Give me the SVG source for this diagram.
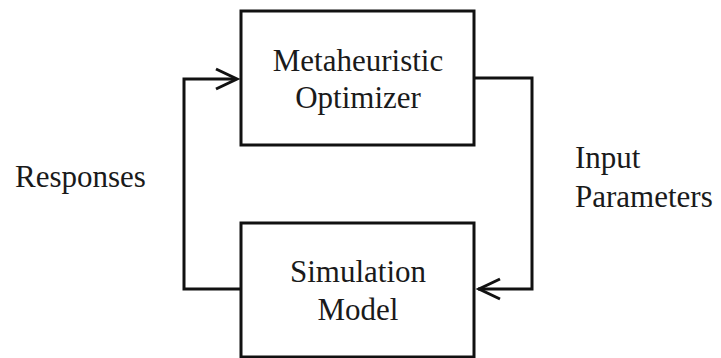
<svg xmlns="http://www.w3.org/2000/svg" width="721" height="358" viewBox="0 0 721 358">
<rect width="721" height="358" fill="#fff"/>
<g id="connectors" fill="none" stroke="#111" stroke-width="3">
<path d="M241,289 H184 V79 H236"/>
<path d="M216,69 L237,79 L216,89"/>
<path d="M474,78 H532 V289 H478"/>
<path d="M500,279 L479,289 L500,299"/>
</g>
<g id="optimizer">
<rect x="241" y="11" width="233" height="134" fill="#fff" stroke="#111" stroke-width="3"/>
<text x="358" y="71" text-anchor="middle" font-size="31" fill="#1a1a1a" style="font-family:'Liberation Serif',serif !important">Metaheuristic</text>
<text x="358" y="108" text-anchor="middle" font-size="31" fill="#1a1a1a" style="font-family:'Liberation Serif',serif !important">Optimizer</text>
</g>
<g id="simulation">
<rect x="241" y="223" width="233" height="134" fill="#fff" stroke="#111" stroke-width="3"/>
<text x="358" y="282" text-anchor="middle" font-size="31" fill="#1a1a1a" style="font-family:'Liberation Serif',serif !important">Simulation</text>
<text x="358" y="320" text-anchor="middle" font-size="31" fill="#1a1a1a" style="font-family:'Liberation Serif',serif !important">Model</text>
</g>
<g id="label-responses">
<text x="15" y="187" font-size="31" fill="#1a1a1a" style="font-family:'Liberation Serif',serif !important">Responses</text>
</g>
<g id="label-input">
<text x="575" y="168" font-size="31" fill="#1a1a1a" style="font-family:'Liberation Serif',serif !important">Input</text>
<text x="575" y="207" font-size="31" fill="#1a1a1a" style="font-family:'Liberation Serif',serif !important">Parameters</text>
</g>
</svg>
